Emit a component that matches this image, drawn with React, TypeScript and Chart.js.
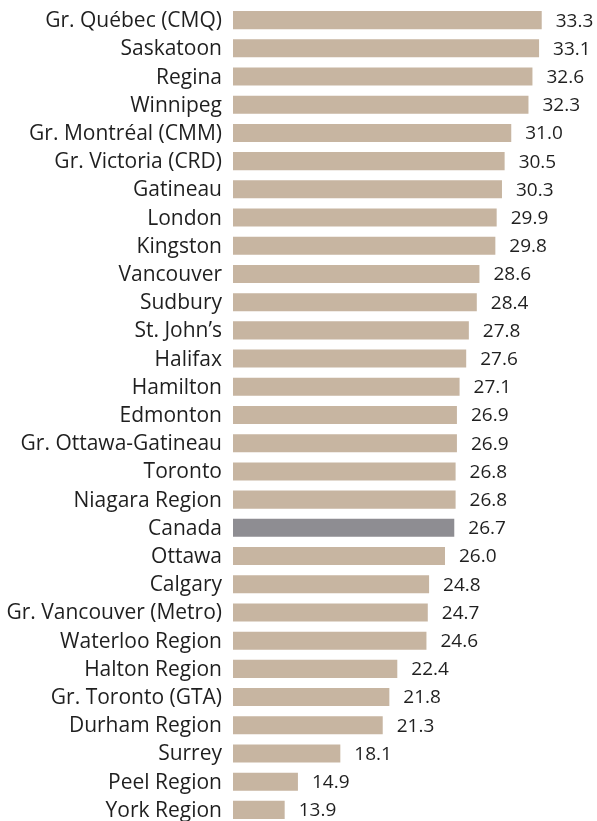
import React, { useEffect, useRef } from "react";
import { Chart, registerables } from "chart.js";

Chart.register(...registerables);

const categories = [
  "Gr. Québec (CMQ)",
  "Saskatoon",
  "Regina",
  "Winnipeg",
  "Gr. Montréal (CMM)",
  "Gr. Victoria (CRD)",
  "Gatineau",
  "London",
  "Kingston",
  "Vancouver",
  "Sudbury",
  "St. John’s",
  "Halifax",
  "Hamilton",
  "Edmonton",
  "Gr. Ottawa-Gatineau",
  "Toronto",
  "Niagara Region",
  "Canada",
  "Ottawa",
  "Calgary",
  "Gr. Vancouver (Metro)",
  "Waterloo Region",
  "Halton Region",
  "Gr. Toronto (GTA)",
  "Durham Region",
  "Surrey",
  "Peel Region",
  "York Region",
];

const values = [
  33.3, 33.1, 32.6, 32.3, 31.0, 30.5, 30.3, 29.9, 29.8, 28.6, 28.4, 27.8, 27.6,
  27.1, 26.9, 26.9, 26.8, 26.8, 26.7, 26.0, 24.8, 24.7, 24.6, 22.4, 21.8, 21.3,
  18.1, 14.9, 13.9,
];

const highlight = "Canada";
const axisMin = 10;
const axisMax = 36;

const FONT = "'Open Sans', sans-serif";
const TEXT_COLOR = "#1f1f1f";
const BAR_COLOR = "#c7b5a1";
const HIGHLIGHT_COLOR = "#8e8d92";

const textLabels = {
  id: "textLabels",
  afterDatasetsDraw(chart: any) {
    const ctx = chart.ctx;
    const meta = chart.getDatasetMeta(0);
    const left = chart.chartArea.left;
    ctx.save();
    ctx.fillStyle = TEXT_COLOR;
    ctx.textBaseline = "middle";
    meta.data.forEach((bar: any, i: number) => {
      ctx.font = `21px ${FONT}`;
      ctx.textAlign = "right";
      ctx.fillText(categories[i], left - 11, bar.y + 1);
      ctx.font = `19px ${FONT}`;
      ctx.textAlign = "left";
      ctx.fillText(values[i].toFixed(1), bar.x + 14, bar.y + 1);
    });
    ctx.restore();
  },
};

export default function App() {
  const ref = useRef<HTMLCanvasElement | null>(null);
  useEffect(() => {
    if (!ref.current) return;
    const chart = new Chart(ref.current, {
      type: "bar",
      data: {
        labels: categories,
        datasets: [
          {
            data: values,
            backgroundColor: categories.map((c) =>
              c === highlight ? HIGHLIGHT_COLOR : BAR_COLOR
            ),
            barPercentage: 0.64,
            categoryPercentage: 1,
            borderWidth: 0,
          },
        ],
      },
      options: {
        indexAxis: "y",
        animation: false,
        responsive: false,
        maintainAspectRatio: false,
        layout: { padding: { top: 6, bottom: 0, left: 0, right: 19.5 } },
        plugins: {
          legend: { display: false },
          tooltip: { enabled: false },
        },
        scales: {
          x: {
            display: false,
            min: axisMin,
            max: axisMax,
          },
          y: {
            grid: { display: false, drawTicks: false },
            border: { display: false },
            ticks: { display: false },
            afterFit(scale: any) {
              scale.width = 233;
            },
          },
        },
      },
      plugins: [textLabels],
    });
    return () => chart.destroy();
  }, []);
  return (
    <div style={{ position: "absolute", left: 0, top: 0, width: 597, height: 824 }}>
      <canvas ref={ref} width={597} height={824} style={{ display: "block" }} />
    </div>
  );
}
